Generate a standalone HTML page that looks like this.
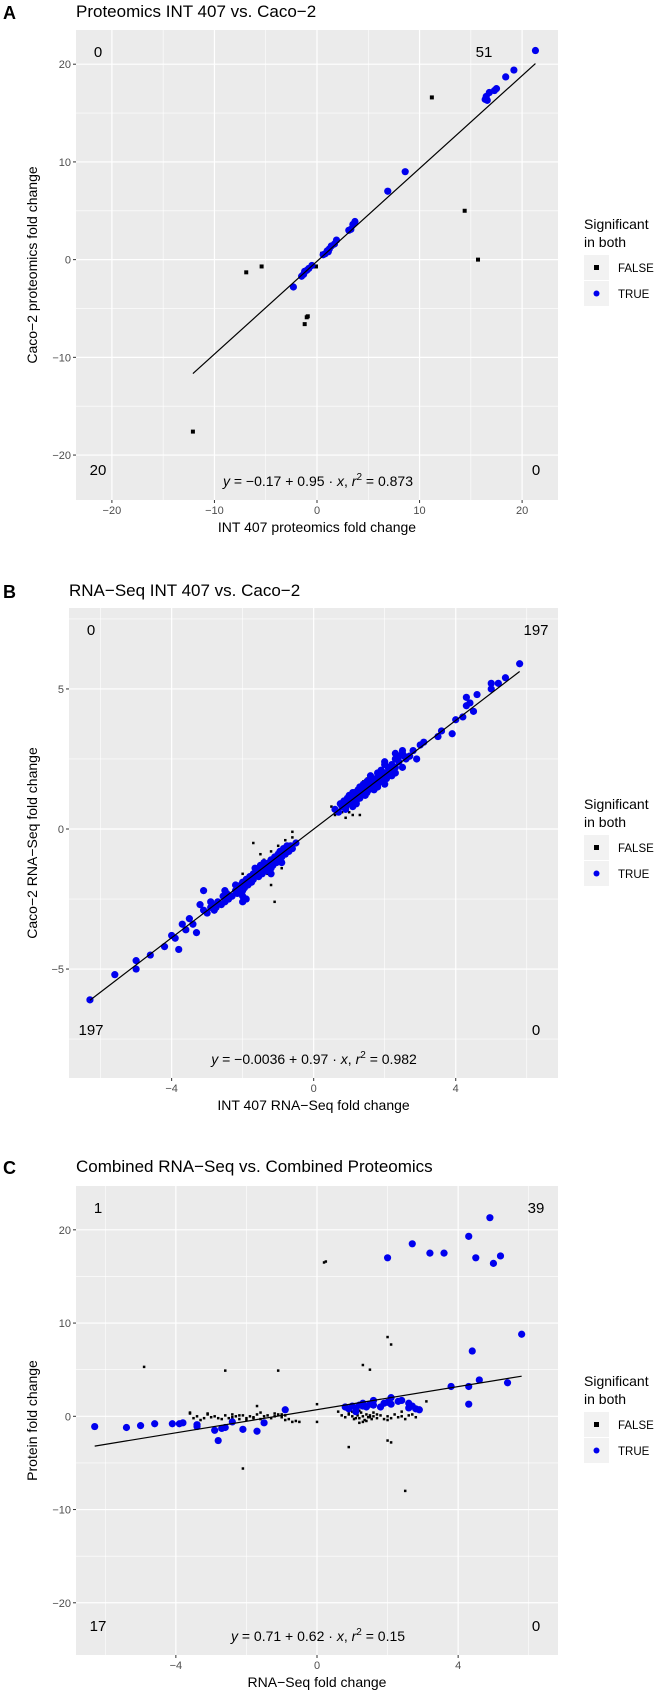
<!DOCTYPE html>
<html><head><meta charset="utf-8">
<style>
html,body{margin:0;padding:0;background:#fff;}
svg{display:block;font-family:"Liberation Sans",sans-serif;}
</style></head>
<body>
<svg id="fig" width="664" height="1700" viewBox="0 0 664 1700" xmlns="http://www.w3.org/2000/svg"></svg>
<script>
// Panel A data
const aTrueX=[21.3,19.2,18.4,17.5,17.3,16.8,16.5,16.4,16.6,8.6,6.9,3.7,3.5,3.3,3.1,1.9,1.7,1.4,1.2,1.0,0.8,0.6,1.1,-0.5,-0.8,-1.0,-1.3,-1.5,-2.3,-1.2];
const aTrueY=[21.4,19.4,18.7,17.5,17.3,17.1,16.7,16.4,16.3,9.0,7.0,3.9,3.6,3.1,3.0,2.0,1.6,1.4,1.1,0.9,0.6,0.5,0.8,-0.6,-0.9,-1.1,-1.5,-1.7,-2.8,-1.2];
const aFalseX=[11.2,14.4,15.7,-6.9,-5.4,-1.2,-0.9,-1.0,-12.1,-0.1,0.5];
const aFalseY=[16.6,5.0,0.0,-1.3,-0.7,-6.6,-5.8,-5.9,-17.6,-0.7,0.6];
const aFit=[-0.17,0.95]; const aFitRange=[-12.1,21.3];
const aXTicks=[-20,-10,0,10,20]; const aYTicks=[-20,-10,0,10,20];
const aCounts=["0","51","20","0"];
// Panel B data
const bTrueX=[5.8,5.4,5.2,5.0,5.0,4.6,4.3,4.4,4.3,4.5,4.2,4.0,3.9,3.6,3.5,3.1,3.0,2.8,2.7,2.5,2.4,2.3,2.5,2.7,2.9,2.3,2.0,
0.6,0.7,0.75,0.8,0.85,0.9,0.95,1.0,1.0,1.05,1.1,1.1,1.15,1.2,1.2,1.25,1.3,1.3,1.35,1.4,1.4,1.45,1.5,1.5,1.55,1.6,1.6,1.65,1.7,1.7,1.75,1.8,1.8,1.85,1.9,1.9,1.95,2.0,2.0,2.05,2.1,2.1,2.15,2.2,2.2,2.3,2.35,2.4,2.5,2.55,2.6,1.3,1.5,0.9,1.2,1.6,2.0,2.3,1.8,1.1,
-0.5,-0.6,-0.65,-0.7,-0.75,-0.8,-0.85,-0.9,-0.95,-1.0,-1.0,-1.05,-1.1,-1.15,-1.2,-1.2,-1.25,-1.3,-1.35,-1.4,-1.4,-1.45,-1.5,-1.5,-1.55,-1.6,-1.65,-1.7,-1.7,-1.75,-1.8,-1.85,-1.9,-1.95,-2.0,-2.0,-2.05,-2.1,-2.15,-2.2,-2.2,-2.3,-2.4,-2.45,-2.5,-2.55,-2.6,-2.7,-2.75,-2.8,-2.85,-2.9,-3.0,-3.1,-3.2,-2.9,-2.5,-2.0,-1.2,-0.9,-1.9,-2.4,-3.1,-2.0,-1.9,
-6.3,-5.6,-5.0,-5.0,-4.6,-4.2,-4.0,-3.9,-3.8,-3.6,-3.7,-3.4,-3.3,-3.5];
const bTrueY=[5.9,5.4,5.2,5.2,5.0,4.8,4.7,4.5,4.4,4.2,4.0,3.9,3.4,3.5,3.3,3.1,3.0,2.8,2.6,2.7,2.6,2.5,2.8,2.6,2.5,2.7,2.4,
0.7,0.6,0.9,0.8,1.0,0.7,1.1,0.9,1.2,1.0,1.1,0.8,1.3,1.2,1.0,1.4,1.2,1.5,1.3,1.4,1.6,1.2,1.5,1.7,1.4,1.6,1.9,1.5,1.7,1.4,1.8,1.6,2.0,1.8,1.7,2.1,1.9,2.0,2.3,1.8,2.0,2.2,2.1,2.3,1.9,2.2,2.5,2.4,2.2,2.6,2.5,1.1,1.3,0.8,0.9,1.8,1.6,2.0,1.5,1.3,
-0.5,-0.7,-0.6,-0.8,-0.6,-0.9,-0.7,-1.0,-0.8,-1.1,-0.9,-1.2,-1.0,-1.3,-1.1,-1.4,-1.2,-1.3,-1.5,-1.2,-1.4,-1.6,-1.3,-1.5,-1.7,-1.6,-1.4,-1.8,-1.6,-1.9,-1.7,-2.0,-1.8,-2.1,-1.9,-2.2,-2.0,-2.1,-2.3,-2.0,-2.2,-2.4,-2.5,-2.3,-2.6,-2.4,-2.7,-2.6,-2.8,-2.9,-2.7,-2.8,-3.0,-2.9,-2.7,-2.6,-2.2,-2.4,-1.6,-1.2,-2.0,-2.5,-2.2,-2.6,-2.5,
-6.1,-5.2,-5.0,-4.7,-4.5,-4.2,-3.8,-3.9,-4.3,-3.6,-3.4,-3.4,-3.7,-3.2];
const bFalseX=[0.6,0.7,0.8,0.9,0.8,1.0,1.1,1.2,1.4,1.5,0.5,1.3,-0.5,-0.6,-0.7,-0.8,-1.0,-1.2,-1.4,-1.5,-1.7,-1.1,-1.2,-1.1,-0.9,-2.0,-1.9,-0.6,-1.0,-1.3,-0.45,-0.7];
const bFalseY=[0.5,0.9,0.6,0.4,1.0,0.6,0.5,0.9,1.7,1.8,0.8,0.5,-0.5,-0.3,-0.7,-0.4,-0.6,-0.8,-1.1,-0.9,-0.5,-1.3,-2.0,-2.6,-1.4,-1.6,-1.8,-0.1,-0.8,-1.6,-0.5,-0.6];
const bFit=[-0.0036,0.97]; const bFitRange=[-6.3,5.8];
const bXTicks=[-4,0,4]; const bYTicks=[-5,0,5];
const bCounts=["0","197","197","0"];
// Panel C data
const cTrueX=[-6.3,-5.4,-5.0,-4.6,-4.1,-3.9,-3.8,-3.4,-3.4,-2.9,-2.8,-2.7,-2.6,-2.4,-2.1,-1.7,-1.5,-0.9,
2.0,2.7,3.2,3.6,4.3,4.5,4.9,5.0,5.2,5.8,4.4,3.8,4.3,4.6,5.4,4.3,
0.8,0.9,1.0,1.1,1.2,1.3,1.3,1.4,1.6,1.6,1.8,1.9,2.0,2.1,2.1,2.3,2.4,2.6,2.6,2.7,2.8,2.9,1.1,1.5];
const cTrueY=[-1.1,-1.2,-1.0,-0.8,-0.8,-0.8,-0.7,-0.9,-1.1,-1.5,-2.6,-1.3,-1.2,-0.6,-1.4,-1.6,-0.7,0.7,
17.0,18.5,17.5,17.5,19.3,17.0,21.3,16.4,17.2,8.8,7.0,3.2,3.2,3.9,3.6,1.3,
1.0,0.8,1.1,0.9,1.2,1.1,1.4,1.0,1.7,1.2,1.0,1.4,1.5,2.0,1.3,1.6,1.7,1.4,0.9,1.1,0.8,0.7,0.5,1.3];
const cFalseX=[-3.6,-3.5,-3.4,-3.3,-3.2,-3.1,-3.0,-2.9,-2.8,-2.7,-2.6,-2.5,-2.4,-2.3,-2.2,-2.1,-2.0,-1.9,-1.8,-1.7,-1.6,-1.5,-1.4,-1.3,-1.2,-1.1,-1.0,-0.9,-0.8,-0.7,-0.6,-2.4,-2.0,-1.6,-1.2,-0.9,-1.8,-2.2,-1.0,-0.5,
0.7,0.8,0.9,1.0,1.05,1.1,1.15,1.2,1.25,1.3,1.35,1.4,1.45,1.5,1.55,1.6,1.7,1.8,1.9,2.0,2.1,2.2,2.3,2.4,2.5,2.6,2.7,1.0,1.2,1.4,1.6,1.3,1.1,0.9,1.5,2.0,2.4,1.7,1.2,2.8,
-4.9,-2.6,-1.1,0.2,0.25,2.0,2.1,1.3,1.5,-2.1,0.9,2.0,2.1,2.5,0.0,0.0,-3.6,-3.1,-1.7,3.1,0.6];
const cFalseY=[0.3,-0.2,0.0,-0.4,-0.2,0.2,-0.1,0.0,-0.2,-0.3,0.1,-0.2,-0.1,0.0,-0.3,0.1,-0.2,0.0,-0.1,0.2,-0.3,0.0,0.1,-0.2,0.0,0.2,-0.1,0.1,-0.3,-0.6,-0.5,0.2,-0.4,0.4,0.3,-0.4,-0.2,0.1,0.2,-0.6,
0.1,-0.1,0.2,0.0,-0.3,0.3,0.1,-0.2,0.4,0.0,-0.4,0.2,-0.1,0.1,-0.3,0.0,-0.2,0.1,-0.3,0.0,-0.2,0.2,-0.1,0.0,-0.3,0.1,0.2,0.5,0.6,-0.5,0.4,-0.6,-0.2,0.3,-0.1,-0.4,0.5,0.2,-0.7,-0.1,
5.3,4.9,4.9,16.5,16.6,8.5,7.7,5.5,5.0,-5.6,-3.3,-2.6,-2.8,-8.0,-0.6,1.3,0.4,0.3,1.1,1.6,0.5];
const cFit=[0.71,0.62]; const cFitRange=[-6.3,5.8];
const cXTicks=[-4,0,4]; const cYTicks=[-20,-10,0,10,20];
const cCounts=["1","39","17","0"];

const NS="http://www.w3.org/2000/svg";
const svg=document.getElementById('fig');
function mk(tag,attrs,parent,text){const e=document.createElementNS(NS,tag);for(const k in attrs)e.setAttribute(k,attrs[k]);if(text!==undefined)e.textContent=text;(parent||svg).appendChild(e);return e;}

function panel(cfg){
  const g=mk('g',{});
  
  
  const L=cfg.box[0],T=cfg.box[1],R=cfg.box[2],B=cfg.box[3];
  const xs=v=>L+(v-cfg.xd[0])/(cfg.xd[1]-cfg.xd[0])*(R-L);
  const ys=v=>B-(v-cfg.yd[0])/(cfg.yd[1]-cfg.yd[0])*(B-T);
  const bg=mk('rect',{x:L,y:T,width:R-L,height:B-T,fill:'#ebebeb'},g);
  
  
  cfg.xMinor.forEach(v=>mk('line',{x1:xs(v),x2:xs(v),y1:T,y2:B,stroke:'#fff','stroke-width':0.6},g));
  cfg.yMinor.forEach(v=>mk('line',{y1:ys(v),y2:ys(v),x1:L,x2:R,stroke:'#fff','stroke-width':0.6},g));
  cfg.xt.forEach(v=>{
    mk('line',{x1:xs(v),x2:xs(v),y1:T,y2:B,stroke:'#fff','stroke-width':1.2},g);
    mk('line',{x1:xs(v),x2:xs(v),y1:B,y2:B+3,stroke:'#333','stroke-width':1},g);
    const t=mk('text',{x:xs(v),y:B+14,'font-size':11,fill:'#4d4d4d','text-anchor':'middle'},g,String(v).replace('-','\u2212'));
    
    
  });
  cfg.yt.forEach(v=>{
    mk('line',{y1:ys(v),y2:ys(v),x1:L,x2:R,stroke:'#fff','stroke-width':1.2},g);
    mk('line',{y1:ys(v),y2:ys(v),x1:L-3,x2:L,stroke:'#333','stroke-width':1},g);
    const t=mk('text',{x:L-5,y:ys(v)+4,'font-size':11,fill:'#4d4d4d','text-anchor':'end'},g,String(v).replace('-','\u2212'));
    
    
  });
  cfg.fx.forEach((v,i)=>{
    const s=cfg.sq;
    const r=mk('rect',{x:xs(v)-s/2,y:ys(cfg.fy[i])-s/2,width:s,height:s,fill:'#000'},g);
    
    
  });
  cfg.tx.forEach((v,i)=>{
    const c=mk('circle',{cx:xs(v),cy:ys(cfg.ty[i]),r:cfg.rad,fill:'#0000ee'},g);
    
    
  });
  const fl=mk('line',{x1:xs(cfg.fr[0]),y1:ys(cfg.fit[0]+cfg.fit[1]*cfg.fr[0]),x2:xs(cfg.fr[1]),y2:ys(cfg.fit[0]+cfg.fit[1]*cfg.fr[1]),stroke:'#000','stroke-width':1.2},g);
  
  
  const cp=[[cfg.cl,cfg.ct],[cfg.ctr,cfg.ct],[cfg.cl,cfg.cb],[cfg.cr,cfg.cb]];
  cfg.counts.forEach((s,i)=>{
    const t=mk('text',{x:cp[i][0],y:cp[i][1],'font-size':15,fill:'#000','text-anchor':'middle'},g,s);
    
    
  });
  const eq=mk('text',{x:cfg.eqx,y:cfg.eqy,'font-size':14,fill:'#000','text-anchor':'middle'},g);
  
  
  eq.innerHTML=cfg.eq;
  const tt=mk('text',{x:cfg.titleX,y:cfg.titleY,'font-size':17,fill:'#000'},g,cfg.title);
  
  
  const lt=mk('text',{x:3,y:cfg.titleY+2,'font-size':18,'font-weight':'bold',fill:'#000'},g,cfg.letter);
  
  
  const xl=mk('text',{x:(L+R)/2,y:B+32,'font-size':14,fill:'#000','text-anchor':'middle'},g,cfg.xlab);
  
  
  const yc=(T+B)/2;
  const yl=mk('text',{x:37,y:yc,'font-size':14,fill:'#000','text-anchor':'middle',transform:'rotate(-90 37 '+yc+')'},g,cfg.ylab);
  
  
  const lg=mk('g',{},g);
  
  
  const ly=cfg.legY;
  mk('text',{x:584,y:ly,'font-size':14,fill:'#000'},lg,'Significant');
  mk('text',{x:584,y:ly+18,'font-size':14,fill:'#000'},lg,'in both');
  mk('rect',{x:584,y:ly+26,width:25,height:25,fill:'#f2f2f2'},lg);
  mk('rect',{x:584,y:ly+52,width:25,height:25,fill:'#f2f2f2'},lg);
  mk('rect',{x:594,y:ly+36,width:5,height:5,fill:'#000'},lg);
  mk('circle',{cx:596.5,cy:ly+64.5,r:3,fill:'#0000ee'},lg);
  const e1=mk('text',{x:618,y:ly+43,'font-size':11.5,fill:'#000'},lg,'FALSE');
  
  
  const e2=mk('text',{x:618,y:ly+69,'font-size':11.5,fill:'#000'},lg,'TRUE');
  
  
}
function eqs(a,b,r){return '<tspan font-style="italic">y</tspan> = '+a+' + '+b+' · <tspan font-style="italic">x</tspan>,  <tspan font-style="italic">r</tspan><tspan dy="-6" font-size="10">2</tspan><tspan dy="6"> = '+r+'</tspan>';}

panel({id:'a',letter:'A',title:'Proteomics INT 407 vs. Caco\u22122',titleX:76,titleY:17,box:[76,30,558,500],xd:[-23.5,23.5],yd:[-24.6,23.5],
 xt:aXTicks,yt:aYTicks,xMinor:[-15,-5,5,15],yMinor:[-15,-5,5,15],tx:aTrueX,ty:aTrueY,fx:aFalseX,fy:aFalseY,fit:aFit,fr:aFitRange,
 sq:4,rad:3.6,counts:aCounts,cl:98,ctr:484,cr:536,ct:57,cb:475,eqx:318,eqy:486,eq:eqs('\u22120.17','0.95','0.873'),
 xlab:'INT 407 proteomics fold change',ylab:'Caco\u22122 proteomics fold change',legY:229});
panel({id:'b',letter:'B',title:'RNA\u2212Seq INT 407 vs. Caco\u22122',titleX:69,titleY:596,box:[69,608,558,1078],xd:[-6.89,6.88],yd:[-8.89,7.89],
 xt:bXTicks,yt:bYTicks,xMinor:[-6,-2,2,6],yMinor:[-7.5,-2.5,2.5,7.5],tx:bTrueX,ty:bTrueY,fx:bFalseX,fy:bFalseY,fit:bFit,fr:bFitRange,
 sq:2.5,rad:3.6,counts:bCounts,cl:91,ctr:536,cr:536,ct:635,cb:1035,eqx:314,eqy:1064,eq:eqs('\u22120.0036','0.97','0.982'),
 xlab:'INT 407 RNA\u2212Seq fold change',ylab:'Caco\u22122 RNA\u2212Seq fold change',legY:809});
panel({id:'c',letter:'C',title:'Combined RNA\u2212Seq vs. Combined Proteomics',titleX:76,titleY:1172,box:[76,1186,558,1655],xd:[-6.83,6.83],yd:[-25.6,24.7],
 xt:cXTicks,yt:cYTicks,xMinor:[-6,-2,2,6],yMinor:[-15,-5,5,15],tx:cTrueX,ty:cTrueY,fx:cFalseX,fy:cFalseY,fit:cFit,fr:cFitRange,
 sq:2.5,rad:3.6,counts:cCounts,cl:98,ctr:536,cr:536,ct:1213,cb:1631,eqx:318,eqy:1641,eq:eqs('0.71','0.62','0.15'),
 xlab:'RNA\u2212Seq fold change',ylab:'Protein fold change',legY:1386});
</script>
</body></html>
